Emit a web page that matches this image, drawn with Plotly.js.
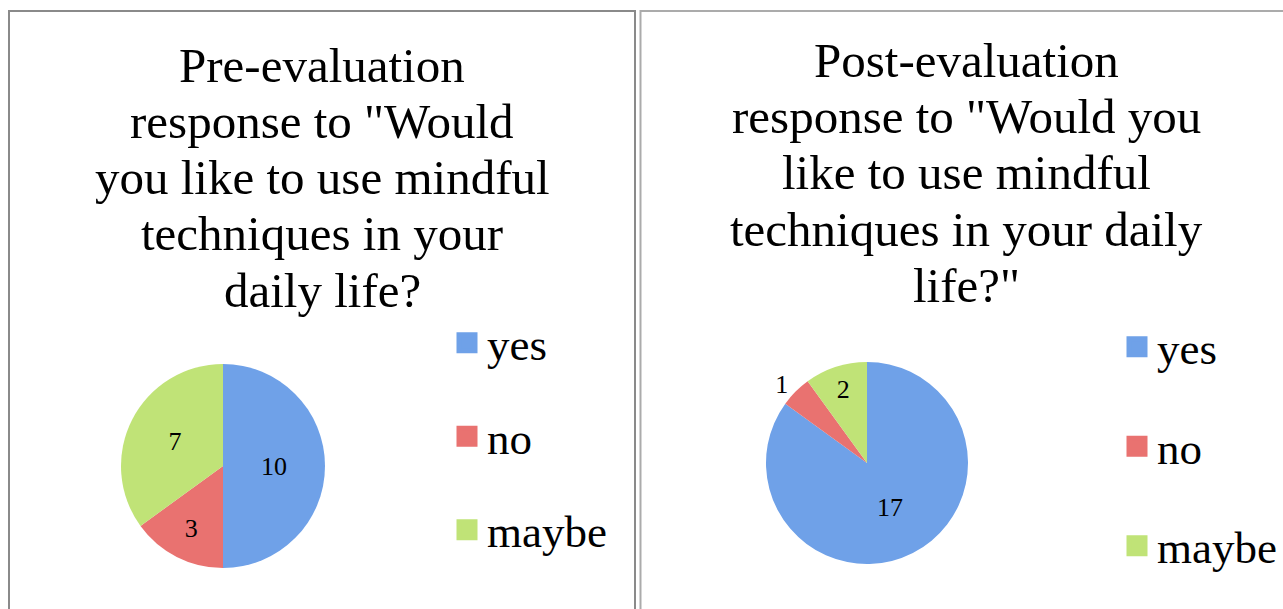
<!DOCTYPE html>
<html><head><meta charset="utf-8">
<script src="https://cdn.plot.ly/plotly-3.0.1.min.js"></script>
<style>html,body{margin:0;padding:0;background:#fff;}#chart{width:1283px;height:609px;}</style>
</head><body><div id="chart"></div>
<script>
// ---- data ----
const categories = ["yes", "no", "maybe"];
const preValues = [10, 3, 7];
const postValues = [17, 1, 2];
const preTitleLines = ["Pre-evaluation", "response to \"Would", "you like to use mindful", "techniques in your", "daily life?"];
const postTitleLines = ["Post-evaluation", "response to \"Would you", "like to use mindful", "techniques in your daily", "life?\""];
const postTextPositions = ["inside", "outside", "inside"];

// ---- style ----
const W = 1283, H = 609;
const sliceColors = ["#6fa1e8", "#e97270", "#c0e377"];
const FONT = "Liberation Serif, Times New Roman, serif";
const px = v => v / W;
const py = v => 1 - v / H;

const traces = [];
traces.push({
  type: "pie", labels: categories, values: preValues, sort: false, direction: "clockwise", rotation: 0,
  marker: { colors: sliceColors }, textinfo: "value", textposition: "inside", insidetextorientation: "horizontal",
  textfont: { family: FONT, size: 26, color: "#000" }, showlegend: false, hoverinfo: "none",
  domain: { x: [px(121), px(325)], y: [py(568), py(364)] }
});
traces.push({
  type: "pie", labels: categories, values: postValues, sort: false, direction: "clockwise", rotation: 0,
  marker: { colors: sliceColors }, textinfo: "value", textposition: postTextPositions, insidetextorientation: "horizontal",
  textfont: { family: FONT, size: 26, color: "#000" }, showlegend: false, hoverinfo: "none",
  domain: { x: [px(766), px(968)], y: [py(564), py(362)] }
});
// legend entries (one per category, per panel)
["legend", "legend2"].forEach((lg, k) => {
  categories.forEach((c, i) => {
    traces.push({
      type: "scatter", mode: "markers", x: [null], y: [null], name: c,
      legend: lg, legendgroup: lg + "_" + c, hoverinfo: "none",
      marker: { symbol: "square", size: 16, color: sliceColors[i], line: { width: 5, color: sliceColors[i] } }
    });
  });
});

const annotations = [];
preTitleLines.forEach((t, i) => annotations.push({
  text: t, xref: "paper", yref: "paper", x: px(322), y: py(66 + i * 56), xanchor: "center", yanchor: "middle",
  showarrow: false, font: { family: FONT, size: 49, color: "#000" }
}));
postTitleLines.forEach((t, i) => annotations.push({
  text: t, xref: "paper", yref: "paper", x: px(966), y: py(60.5 + i * 56.2), xanchor: "center", yanchor: "middle",
  showarrow: false, font: { family: FONT, size: 49, color: "#000" }
}));

const legendBase = { xanchor: "left", yanchor: "top", bgcolor: "rgba(0,0,0,0)", borderwidth: 0,
  font: { family: FONT, size: 45, color: "#000" } };

const layout = {
  width: W, height: H, margin: { l: 0, r: 0, t: 0, b: 0 },
  paper_bgcolor: "#fff", plot_bgcolor: "#fff", showlegend: true,
  uniformtext: { minsize: 26, mode: "show" },
  xaxis: { visible: false }, yaxis: { visible: false },
  legend: Object.assign({}, legendBase, { x: px(447), y: py(307), tracegroupgap: 32 }),
  legend2: Object.assign({}, legendBase, { x: px(1117), y: py(311), tracegroupgap: 38 }),
  annotations: annotations,
  shapes: [
    { type: "rect", xref: "paper", yref: "paper", x0: px(9), x1: px(635), y0: py(640), y1: py(11), line: { color: "#8a8a8a", width: 2 } },
    { type: "rect", xref: "paper", yref: "paper", x0: px(640.5), x1: px(1300), y0: py(640), y1: py(11), line: { color: "#ababab", width: 2 } }
  ]
};

Plotly.newPlot("chart", traces, layout, { staticPlot: true, displayModeBar: false });
</script></body></html>
